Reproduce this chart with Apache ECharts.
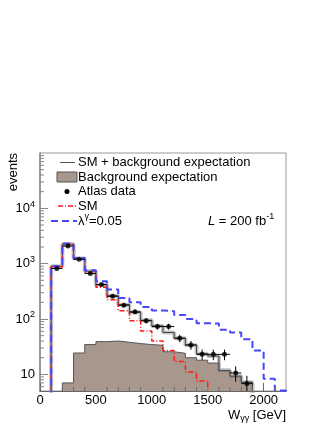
<!DOCTYPE html>
<html><head><meta charset="utf-8">
<script src="https://cdn.jsdelivr.net/npm/echarts@6/dist/echarts.min.js"></script>
<style>html,body{margin:0;padding:0;background:#fff}#c{width:332px;height:430px}</style>
</head><body><div id="c"></div>
<script>
// ---- data (bins of 100 GeV) ----
const binEdges = [100,200,300,400,500,600,700,800,900,1000,1100,1200,1300,1400,1500,1600,1700,1800,1900,2000,2100,2200];
const smPlusBg   = [900,2250,1240,730,415,264,181,131,95,75,57,45,33.6,23.6,21.4,11.8,9.3,7.2,null,null,null];
const background = [null,7.0,24.3,34.5,39,40,38,36,34.5,33.5,25.6,24,20,18,16,11.4,9,7.2,null,null,null];
const smOnly     = [880,2230,1210,690,374,222,141,93,61,40,27,17,11,7.6,null,null,null,null,null,null,null];
const lambda005  = [900,2320,1270,760,480,343,239,200,165,143,138,118,100,84,83,64,57,43,27,8.3,5.1];
const dataCenters = [150,250,350,450,550,650,750,850,950,1050,1150,1250,1350,1450,1550,1650,1750,1850];
const dataValues  = [820,2080,1200,663,419,257,178,135,93,73,73,45,34,23,23,23,10.6,6.8];
const dataErrors  = [29,46,35,26,20,16,13,12,10,9,9,7,6,5,5,5,3.3,2.6];
const dataHalfWidths = [50,50,50,50,50,50,50,50,50,50,50,50,50,50,50,50,50,50];
const xMinorTicks = [100,200,300,400,600,700,800,900,1100,1200,1300,1400,1600,1700,1800,1900,2100];
const yMinorTicks = [6,7,8,9,20,30,40,50,60,70,80,90,200,300,400,500,600,700,800,900,2000,3000,4000,5000,6000,7000,8000,9000,20000,30000,40000,50000,60000,70000,80000,90000];

const FLOOR = 1; // below the axis minimum, clipped away
function steps(vals){
  const pts=[]; let open=false;
  for(let i=0;i<vals.length;i++){
    const v=vals[i];
    if(v==null){ if(open){pts.push([binEdges[i],FLOOR]); open=false;} continue; }
    if(!open){ pts.push([binEdges[i],FLOOR]); open=true; }
    pts.push([binEdges[i],v],[binEdges[i+1],v]);
  }
  if(open) pts.push([binEdges[vals.length],FLOOR]);
  return pts;
}
const FONT='Liberation Sans';
const chart = echarts.init(document.getElementById('c'), null, {renderer:'canvas'});
const supRich = {
  n:{fontSize:13,fontFamily:FONT,color:'#000'},
  i:{fontSize:13,fontFamily:FONT,fontStyle:'italic',color:'#000'},
  sup:{fontSize:9,fontFamily:FONT,color:'#000',padding:[0,0,8,0]},
  sub:{fontSize:9,fontFamily:FONT,color:'#000',padding:[8,0,0,0]}
};
function txt(x,y,text,extra){
  return Object.assign({type:'text',x:x,y:y,silent:true,style:{text:text,fontSize:13,fontFamily:FONT,fill:'#000',
    align:'left',textAlign:'left',verticalAlign:'middle',textVerticalAlign:'middle',rich:supRich}},extra||{});
}
const option = {
  animation:false,
  backgroundColor:'#fff',
  grid:{left:40,right:46,top:153,bottom:39,show:true,borderColor:'#999',borderWidth:1},
  xAxis:{type:'value',min:0,max:2200,interval:500,
    axisLine:{show:true,lineStyle:{color:'#666',width:1}},
    axisTick:{show:true,inside:true,length:8,lineStyle:{color:'#666'}},
    axisLabel:{fontSize:13,fontFamily:FONT,color:'#000',margin:3,showMaxLabel:false,
      formatter:function(v){return String(v);}},
    splitLine:{show:false}},
  yAxis:{type:'log',logBase:10,min:5,max:100000,
    axisLine:{show:true,lineStyle:{color:'#888',width:1.5}},
    axisTick:{show:true,inside:true,length:8,lineStyle:{color:'#888'}},
    axisLabel:{fontSize:13,fontFamily:FONT,color:'#000',margin:5,showMinLabel:false,showMaxLabel:false,
      formatter:function(v){const e=Math.round(Math.log10(v)); return e===1?'{n|10}':'{n|10}{sup|'+e+'}';},
      rich:supRich},
    splitLine:{show:false}},
  series:[
    {name:'Background expectation',type:'line',data:steps(background),symbol:'none',clip:true,z:1,
      lineStyle:{color:'#555',width:1},areaStyle:{color:'#a8978c',opacity:1,origin:'start'}},
    {name:'band',type:'line',data:steps(smPlusBg),symbol:'none',clip:true,z:2,
      lineStyle:{color:'rgba(140,140,140,0.5)',width:4}},
    {name:'SM + background expectation',type:'line',data:steps(smPlusBg),symbol:'none',clip:true,z:3,
      lineStyle:{color:'#444',width:1}},
    {name:'SM',type:'line',data:steps(smOnly),symbol:'none',clip:true,z:4,
      lineStyle:{color:'#ff1a1a',width:1.5,type:[5,2,1,2]}},
    {name:'lambda',type:'line',data:steps(lambda005),symbol:'none',clip:true,z:5,
      lineStyle:{color:'#4646ff',width:2,type:[7,4]}},
    {name:'errors',type:'custom',z:6,clip:true,
      data:dataCenters.map((x,i)=>[x,dataValues[i],dataErrors[i],dataHalfWidths[i]]),
      renderItem:function(params,api){
        const x=api.value(0),y=api.value(1),e=api.value(2),w=api.value(3);
        const l=api.coord([x-w,y]),r=api.coord([x+w,y]),t=api.coord([x,y+e]),b=api.coord([x,Math.max(y-e,0.5)]);
        const st={stroke:'#000',lineWidth:1};
        return {type:'group',children:[
          {type:'line',shape:{x1:l[0],y1:l[1],x2:r[0],y2:r[1]},style:st},
          {type:'line',shape:{x1:t[0],y1:t[1],x2:b[0],y2:b[1]},style:st}]};
      }},
    {name:'Atlas data',type:'scatter',z:7,symbol:'circle',symbolSize:5,itemStyle:{color:'#000'},
      data:dataCenters.map((x,i)=>[x,dataValues[i]])},
    {name:'xminor',type:'custom',z:8,silent:true,data:xMinorTicks.map(v=>[v,5]),
      renderItem:function(params,api){const p=api.coord([api.value(0),api.value(1)]);
        return {type:'line',shape:{x1:p[0],y1:p[1],x2:p[0],y2:p[1]-4},style:{stroke:'#666',lineWidth:1}};}},
    {name:'yminor',type:'custom',z:8,silent:true,data:yMinorTicks.map(v=>[0,v]),
      renderItem:function(params,api){const p=api.coord([api.value(0),api.value(1)]);
        return {type:'line',shape:{x1:p[0],y1:p[1],x2:p[0]+4,y2:p[1]},style:{stroke:'#888',lineWidth:1}};}}
  ],
  graphic:[
    {type:'line',silent:true,shape:{x1:60,y1:162.5,x2:75,y2:162.5},style:{stroke:'#555',lineWidth:1}},
    txt(78,162.5,'SM + background expectation'),
    {type:'rect',silent:true,shape:{x:57,y:172,width:20,height:10},style:{fill:'#a8978c',stroke:'#555',lineWidth:1}},
    txt(78,177,'Background expectation'),
    {type:'circle',silent:true,shape:{cx:67,cy:191.5,r:2.5},style:{fill:'#000'}},
    txt(78,191.5,'Atlas data'),
    {type:'line',silent:true,shape:{x1:58,y1:206,x2:77,y2:206},style:{stroke:'#ff1a1a',lineWidth:1.5,lineDash:[5,2,1,2]}},
    txt(78,206,'SM'),
    {type:'line',silent:true,shape:{x1:51,y1:221,x2:77,y2:221},style:{stroke:'#4646ff',lineWidth:2,lineDash:[7,4]}},
    txt(78,221,'{n|λ}{sup|γ}{n|=0.05}'),
    txt(208,221,'{i|L}{n| = 200 fb}{sup|-1}'),
    txt(286,415,'{n|W}{sub|γγ}{n| [GeV]}',{style:{text:'{n|W}{sub|γγ}{n| [GeV]}',fontSize:13,fontFamily:FONT,fill:'#000',align:'right',textAlign:'right',verticalAlign:'middle',textVerticalAlign:'middle',rich:supRich}}),
    {type:'text',silent:true,x:13,y:153,rotation:Math.PI/2,style:{text:'events',fontSize:13,fontFamily:FONT,fill:'#000',align:'right',textAlign:'right',verticalAlign:'middle',textVerticalAlign:'middle'}}
  ]
};
chart.setOption(option);
</script>
</body></html>
